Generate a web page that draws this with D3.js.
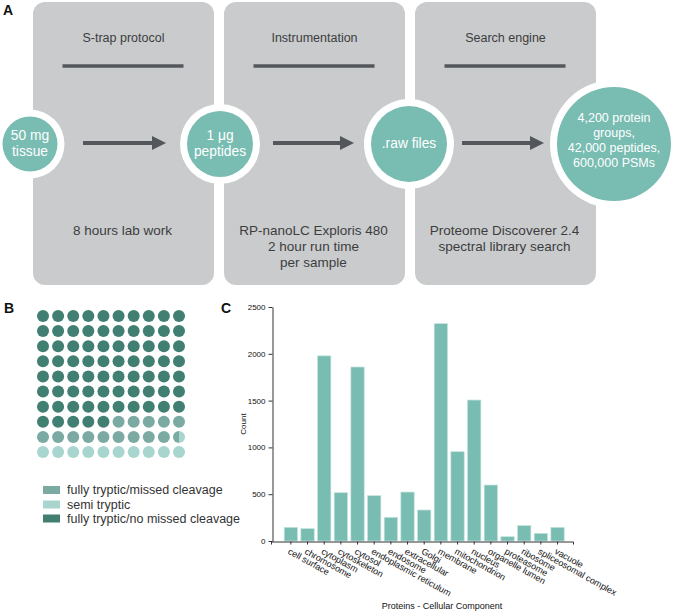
<!DOCTYPE html>
<html>
<head>
<meta charset="utf-8">
<script src="https://cdn.jsdelivr.net/npm/d3@7"></script>
<style>
  body { margin: 0; background: #fff; }
  text { font-family: "Liberation Sans", Arial, Helvetica, sans-serif; }
</style>
</head>
<body>
<svg id="fig"></svg>
<script>
// panel A: workflow
const steps = ["S-trap protocol", "Instrumentation", "Search engine"]
const stepNotes = [
    ["8 hours lab work"],
    ["RP-nanoLC Exploris 480", "2 hour run time", "per sample"],
    ["Proteome Discoverer 2.4", "spectral library search"]
]
const nodeLabels = [
    ["50 mg", "tissue"],
    ["1 \u03bcg", "peptides"],
    [".raw files"],
    ["4,200 protein", "groups,", "42,000 peptides,", "600,000 PSMs"]
]

// panel B: waffle of peptide cleavage (percent)
const cleavageTypes = ["fully tryptic/no missed cleavage", "fully tryptic/missed cleavage", "semi tryptic"]
const cleavagePct = [75, 14.5, 10.5]
const legendOrder = ["fully tryptic/missed cleavage", "semi tryptic", "fully tryptic/no missed cleavage"]

// panel C: cellular component counts
const components = ["cell surface", "chromosome", "cytoplasm", "cytoskeleton", "cytosol",
    "endoplasmic reticulum", "endosome", "extracellular", "Golgi", "membrane", "mitochondrion",
    "nucleus", "organelle lumen", "proteasome", "ribosome", "spliceosomal complex", "vacuole"]
const counts = [146, 132, 1978, 516, 1859, 484, 253, 523, 331, 2322, 954, 1506, 598, 46, 164, 82, 146]
const countTicks = [0, 500, 1000, 1500, 2000, 2500]

const W = 680, H = 612
const teal = "#79bcb2", boxFill = "#c9cbcd", ink = "#53575c", txt = "#3d3d3d"

const svg = d3.select("#fig").attr("width", W).attr("height", H)

// panel letters
svg.selectAll("text.panel")
    .data([["A", 3, 15], ["B", 4, 313], ["C", 221, 313]])
    .enter().append("text")
    .attr("class", "panel")
    .attr("x", d => d[1])
    .attr("y", d => d[2])
    .attr("font-size", 14).attr("font-weight", 900).attr("fill", "#111")
    .text(d => d[0])

// ---------- A ----------
const gA = svg.append("g")
const boxX = d3.scaleBand().domain(d3.range(steps.length)).range([33, 596]).paddingInner(0.0525).paddingOuter(0)
const boxTop = 2, boxH = 283

const boxes = gA.selectAll("g.box").data(steps).enter().append("g").attr("class", "box")
boxes.append("rect")
    .attr("x", (d, i) => boxX(i)).attr("y", boxTop)
    .attr("width", boxX.bandwidth()).attr("height", boxH)
    .attr("rx", 12).attr("fill", boxFill)
boxes.append("text")
    .attr("x", (d, i) => boxX(i) + boxX.bandwidth() / 2) .attr("y", 42)
    .attr("text-anchor", "middle").attr("font-size", 12.5).attr("fill", txt)
    .text(d => d)
boxes.append("line")
    .attr("x1", (d, i) => boxX(i) + boxX.bandwidth() / 2 - 61)
    .attr("x2", (d, i) => boxX(i) + boxX.bandwidth() / 2 + 60)
    .attr("y1", 66).attr("y2", 66)
    .attr("stroke", ink).attr("stroke-width", 3.5)
boxes.each(function (d, i) {
    d3.select(this).selectAll("text.note").data(stepNotes[i]).enter().append("text")
        .attr("class", "note")
        .attr("x", boxX(i) + boxX.bandwidth() / 2 - 1)
        .attr("y", (t, j) => 235 + j * 16)
        .attr("text-anchor", "middle").attr("font-size", 13.5).attr("fill", txt)
        .text(t => t)
})

// arrows
svg.append("defs").append("marker")
    .attr("id", "head").attr("viewBox", "0 0 10 10").attr("refX", 0).attr("refY", 5)
    .attr("markerUnits", "userSpaceOnUse").attr("markerWidth", 16).attr("markerHeight", 14)
    .attr("orient", "auto")
    .append("path").attr("d", "M0,0 L10,5 L0,10 Z").attr("fill", ink)

const nodeX = [30, 220, 409, 614], nodeR = [27.5, 33, 38, 57], nodeY = 144
const arrows = [[83, 152], [273, 340], [462, 530]]
gA.selectAll("line.arrow").data(arrows).enter().append("line")
    .attr("class", "arrow")
    .attr("x1", d => d[0]).attr("x2", d => d[1])
    .attr("y1", nodeY - 1).attr("y2", nodeY - 1)
    .attr("stroke", ink).attr("stroke-width", 4)
    .attr("marker-end", "url(#head)")

const nodes = gA.selectAll("g.node").data(nodeLabels).enter().append("g")
    .attr("class", "node")
    .attr("transform", (d, i) => `translate(${nodeX[i]},${nodeY})`)
nodes.append("circle").attr("r", (d, i) => nodeR[i] + 7).attr("fill", "#fff")
nodes.append("circle").attr("r", (d, i) => nodeR[i]).attr("fill", teal)
nodes.each(function (d, i) {
    const fs = i === 3 ? 12.5 : 13.8
    const lh = i === 3 ? 15 : 16
    d3.select(this).selectAll("text").data(d).enter().append("text")
        .attr("text-anchor", "middle").attr("fill", "#fff").attr("font-size", fs)
        .attr("y", (t, j) => (j - (d.length - 1) / 2) * lh - (i === 3 ? 4 : 1))
        .attr("dy", "0.35em")
        .text(t => t)
})

// ---------- B ----------
const gB = svg.append("g")
const waffleColor = d3.scaleOrdinal().domain(cleavageTypes).range(["#407f71", "#7aaaa2", "#a8d6ce"])
const wx = d3.scalePoint().domain(d3.range(10)).range([43, 179])
const wy = d3.scalePoint().domain(d3.range(10)).range([316, 452])
const dotR = 6

// cumulative bounds for each category
let acc = 0
const bounds = cleavagePct.map((v, k) => { const b = [acc, acc + v, cleavageTypes[k]]; acc += v; return b })

const cells = d3.range(100).map(i => ({ i, col: i % 10, row: Math.floor(i / 10) }))
const defs = svg.select("defs")
cells.forEach(c => {
    const cx = wx(c.col), cy = wy(c.row)
    const parts = bounds
        .map(b => [Math.max(b[0], c.i), Math.min(b[1], c.i + 1), b[2]])
        .filter(p => p[1] > p[0])
    if (parts.length === 1) {
        gB.append("circle").attr("cx", cx).attr("cy", cy).attr("r", dotR).attr("fill", waffleColor(parts[0][2]))
    } else {
        // split dot, e.g. the half-and-half one at the end of row 9
        const id = "clip" + c.i
        defs.append("clipPath").attr("id", id).append("circle").attr("cx", cx).attr("cy", cy).attr("r", dotR)
        parts.forEach(p => {
            gB.append("rect")
                .attr("x", cx - dotR + (p[0] - c.i) * 2 * dotR).attr("y", cy - dotR)
                .attr("width", (p[1] - p[0]) * 2 * dotR).attr("height", 2 * dotR)
                .attr("fill", waffleColor(p[2])).attr("clip-path", `url(#${id})`)
        })
    }
})

const legY = d3.scaleOrdinal().domain(legendOrder).range([490, 504.5, 518.5])
const leg = gB.selectAll("g.leg").data(legendOrder).enter().append("g").attr("class", "leg")
leg.append("rect").attr("x", 43).attr("y", d => legY(d) - 4).attr("width", 17).attr("height", 8)
    .attr("fill", d => waffleColor(d))
leg.append("text").attr("x", 67).attr("y", d => legY(d)).attr("dy", "0.35em")
    .attr("font-size", 12.5).attr("fill", "#333").text(d => d)

// ---------- C ----------
const gC = svg.append("g")
const x = d3.scaleBand().domain(components).range([271, 573]).paddingInner(0.2).paddingOuter(0.66).align(0.6)
const y = d3.scaleLinear().domain([0, 2500]).range([541, 307])

gC.selectAll("rect.bar").data(counts).enter().append("rect")
    .attr("class", "bar")
    .attr("x", (d, i) => x(components[i]))
    .attr("y", d => y(d))
    .attr("width", x.bandwidth())
    .attr("height", d => y(0) - y(d))
    .attr("fill", teal).attr("stroke", "#c3e4de").attr("stroke-width", 0.7)

const yAxis = gC.append("g").attr("transform", "translate(272.5,0)")
    .call(d3.axisLeft(y).tickValues(countTicks).tickFormat(d3.format("d"))
        .tickSize(4).tickSizeOuter(0).tickPadding(3))
yAxis.selectAll("text").attr("font-size", 8).attr("font-family", "Liberation Sans, Arial").attr("fill", "#111")
yAxis.selectAll("line,path").attr("stroke", "#333")

const xAxis = gC.append("g").attr("transform", "translate(0,541.5)")
    .call(d3.axisBottom(x).tickSize(3).tickSizeOuter(3))
xAxis.selectAll("line,path").attr("stroke", "#333")
xAxis.selectAll("text")
    .attr("font-size", 9).attr("font-family", "Liberation Sans, Arial").attr("fill", "#111")
    .attr("text-anchor", "start")
    .attr("x", 0).attr("y", 0).attr("dy", "0.35em")
    .attr("transform", "translate(-2,9) rotate(29)")

gC.append("text")
    .attr("transform", "translate(246,424) rotate(-90)")
    .attr("text-anchor", "middle").attr("font-size", 8).attr("fill", "#111")
    .text("Count")
gC.append("text")
    .attr("x", 442).attr("y", 609)
    .attr("text-anchor", "middle").attr("font-size", 9).attr("fill", "#111")
    .text("Proteins - Cellular Component")
</script>
</body>
</html>
